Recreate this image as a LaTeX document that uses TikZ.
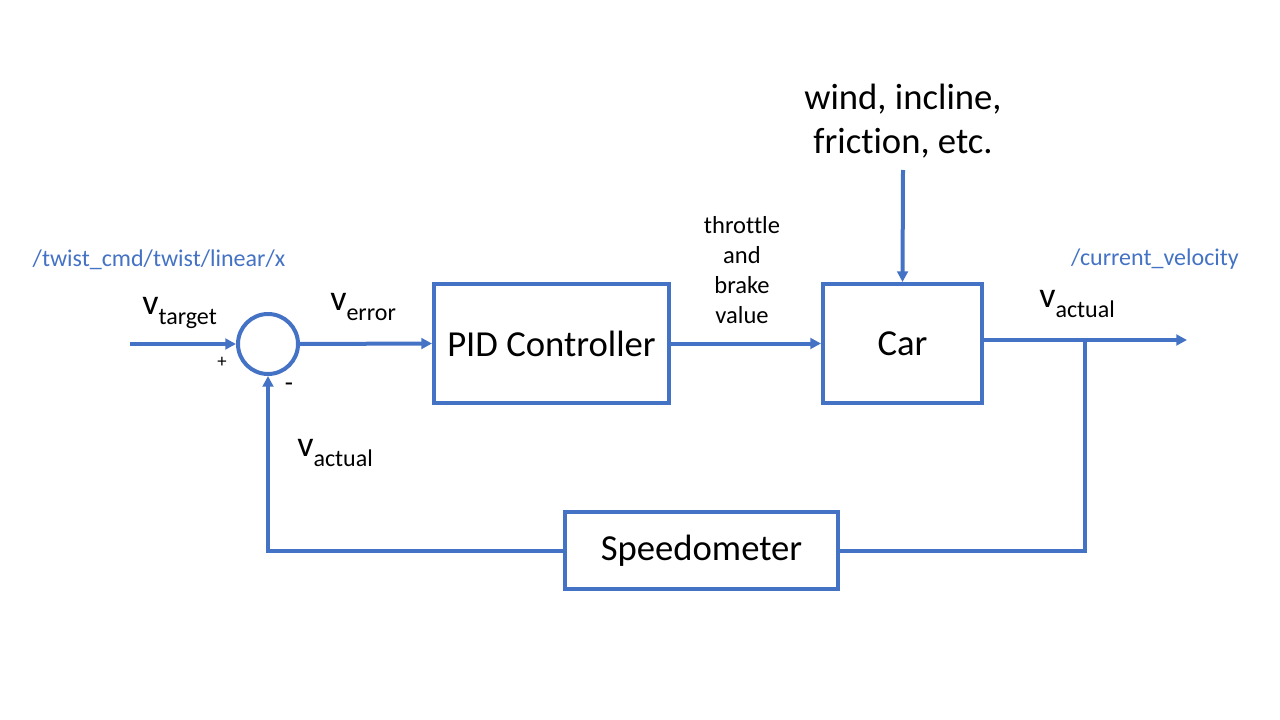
\documentclass[tikz,border=0pt]{standalone}
\usepackage{fontspec}
\setmainfont{Carlito}[RawFeature=-liga]
\usetikzlibrary{arrows.meta}
\definecolor{lineblue}{HTML}{4472C4}
\newcommand{\vsub}[1]{{\fontsize{27}{32}\selectfont v}\raisebox{-8pt}{\fontsize{18}{22}\selectfont #1}}

\begin{document}
\begin{tikzpicture}[x=0.75pt,y=-0.75pt,
   block/.style={draw=lineblue,line width=3pt,inner sep=0pt,font=\fontsize{27.5}{33}\selectfont},
   wire/.style={draw=lineblue,line width=3pt},
   flow/.style={wire,-{Triangle[length=8pt,width=8pt]}},
   topic/.style={text=lineblue,inner sep=0pt,font=\fontsize{18}{22}\selectfont},
   sig/.style={inner sep=0pt,anchor=base west}]
   \useasboundingbox (0,0) rectangle (1280,720);

   % blocks
   \node[block,circle,minimum size=45pt] (sum) at (268,344) {};
   \node[block,minimum width=176.25pt,minimum height=89.25pt] (pid) at (551.5,343.5) {PID Controller};
   \node[block,minimum width=119.25pt,minimum height=89.25pt] (car) at (902.5,343.5) {Car};
   \node[block,minimum width=204.75pt,minimum height=57.75pt] (speedo) at (701.5,550.5) {Speedometer};

   % free ends
   \coordinate (in) at (130,344);
   \coordinate (dist) at (903,170);
   \coordinate (out) at (1187,340);
   \coordinate (branch) at (1085,340);

   % connections
   \draw[flow] (in) -- (sum.west);
   \draw[flow] (sum.east) -- (pid.west);
   \draw[flow] (pid.east) -- (car.west);
   \draw[flow] (dist) -- (car.north);
   \draw[flow] (car.east |- out) -- (out);
   \draw[wire] (branch) |- (speedo.east);
   \draw[flow] (speedo.west) -| (sum.south);

   % labels
   \node[align=center,inner sep=0pt,font=\fontsize{27.5}{33}\selectfont] (windtxt) at (903,121) {wind, incline,\\friction, etc.};
   \node[align=center,inner sep=0pt,font=\fontsize{18.4}{22.5}\selectfont] (cmdtxt) at (742,270) {throttle\\and\\brake\\value};
   \node[sig] (vtarget) at (142,314) {\vsub{target}};
   \node[sig] (verror) at (330,310) {\vsub{error}};
   \node[sig] (vfeed) at (297,456) {\vsub{actual}};
   \node[sig] (vout) at (1039,307) {\vsub{actual}};
   \node[inner sep=0pt,font=\fontsize{14}{17}\selectfont] (plus) at (222,362) {+};
   \node[inner sep=0pt,font=\fontsize{20}{24}\selectfont] (minus) at (289,387) {-};
   \node[topic] (twist) at (159,260) {/twist\_cmd/twist/linear/x};
   \node[topic] (curvel) at (1155,259) {/current\_velocity};
\end{tikzpicture}
\end{document}
